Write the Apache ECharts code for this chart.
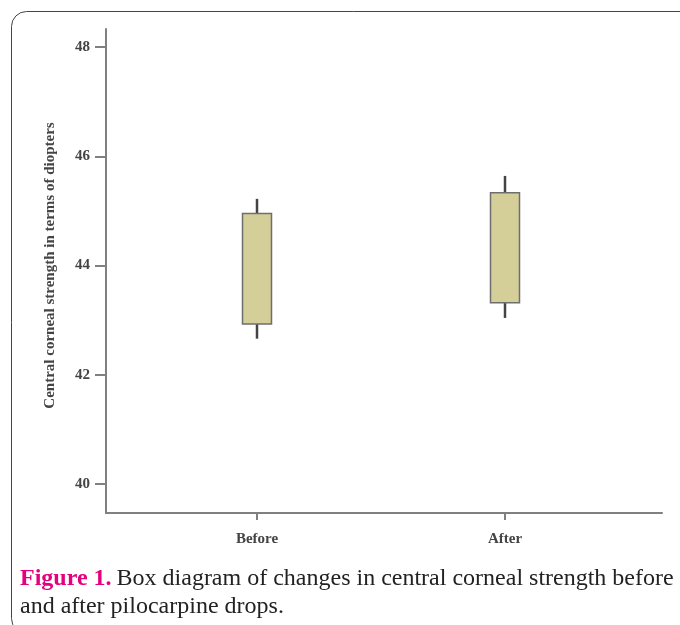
<!DOCTYPE html>
<html><head><meta charset="utf-8">
<script src="https://cdn.jsdelivr.net/npm/echarts@6/dist/echarts.min.js"></script>
<style>html,body{margin:0;padding:0;background:#fff}#c{width:680px;height:625px}</style>
</head><body><div id="c"></div>
<script>
// ---- data ----
const categories = ['Before', 'After'];
const whiskerLow = [42.66, 43.04];
const lowerQuartile = [42.93, 43.32];
const upperQuartile = [44.95, 45.33];
const whiskerHigh = [45.22, 45.64];
const yMin = 40, yMax = 48, yStep = 2;
const yAxisName = 'Central corneal strength in terms of diopters';
const captionLabel = 'Figure 1.';
const captionLine1 = 'Box diagram of changes in central corneal strength before';
const captionLine2 = 'and after pilocarpine drops.';

const boxData = categories.map((c, i) => [i, whiskerLow[i], lowerQuartile[i], upperQuartile[i], whiskerHigh[i]]);

const serif = 'Liberation Serif';
const axisText = { fontFamily: serif, fontWeight: 'bold', fontSize: 15, color: '#444' };
const lineGrey = '#808080';

const chart = echarts.init(document.getElementById('c'), null, { renderer: 'canvas' });
chart.setOption({
  animation: false,
  backgroundColor: '#fff',
  title: {
    left: 20, top: 565, padding: 0,
    text: '{f|' + captionLabel + '} {b|' + captionLine1 + '}\n{b|' + captionLine2 + '}',
    textStyle: {
      rich: {
        f: { fontFamily: serif, fontWeight: 'bold', fontSize: 24, color: '#e5007d', lineHeight: 28 },
        b: { fontFamily: serif, fontWeight: 'normal', fontSize: 24, color: '#222', lineHeight: 28 }
      }
    }
  },
  graphic: [{
    type: 'rect', z: -10, silent: true,
    shape: { x: 11.5, y: 11.5, width: 720, height: 622, r: 15 },
    style: { fill: 'none', stroke: '#444', lineWidth: 1 }
  }],
  grid: [
    { left: 133, right: 51, top: 47, bottom: 141 },
    { left: 106, right: 18, top: 29, bottom: 112 }
  ],
  xAxis: [
    {
      gridIndex: 0, type: 'category', data: categories, offset: 29,
      axisLine: { show: false },
      axisTick: { show: true, alignWithLabel: true, length: 7, lineStyle: { color: lineGrey, width: 2 } },
      axisLabel: Object.assign({ margin: 19 }, axisText),
      splitLine: { show: false }
    },
    {
      gridIndex: 1, type: 'value', min: 0, max: 1,
      axisLine: { show: true, onZero: false, lineStyle: { color: lineGrey, width: 2 } },
      axisTick: { show: false }, axisLabel: { show: false }, splitLine: { show: false }
    }
  ],
  yAxis: [
    {
      gridIndex: 0, type: 'value', min: yMin, max: yMax, interval: yStep, offset: 27,
      axisLine: { show: false },
      axisTick: { show: true, length: 11, lineStyle: { color: lineGrey, width: 2 } },
      axisLabel: Object.assign({ margin: 16 }, axisText),
      splitLine: { show: false },
      name: yAxisName, nameLocation: 'middle', nameGap: 48,
      nameTextStyle: axisText
    },
    {
      gridIndex: 1, type: 'value', min: 0, max: 1,
      axisLine: { show: true, onZero: false, lineStyle: { color: lineGrey, width: 2 } },
      axisTick: { show: false }, axisLabel: { show: false }, splitLine: { show: false }
    }
  ],
  series: [{
    type: 'custom', xAxisIndex: 0, yAxisIndex: 0,
    data: boxData,
    renderItem: function (params, api) {
      const x = api.value(0);
      const lo = api.coord([x, api.value(1)]);
      const q1 = api.coord([x, api.value(2)]);
      const q3 = api.coord([x, api.value(3)]);
      const hi = api.coord([x, api.value(4)]);
      const w = 29;
      return {
        type: 'group',
        children: [
          { type: 'line', shape: { x1: lo[0], y1: lo[1], x2: hi[0], y2: hi[1] }, style: { stroke: '#444', lineWidth: 2.5 } },
          { type: 'rect', shape: { x: q3[0] - w / 2, y: q3[1], width: w, height: q1[1] - q3[1] }, style: { fill: '#d4cf98', stroke: '#6e6e6e', lineWidth: 1.5 } }
        ]
      };
    }
  }]
});
</script></body></html>
